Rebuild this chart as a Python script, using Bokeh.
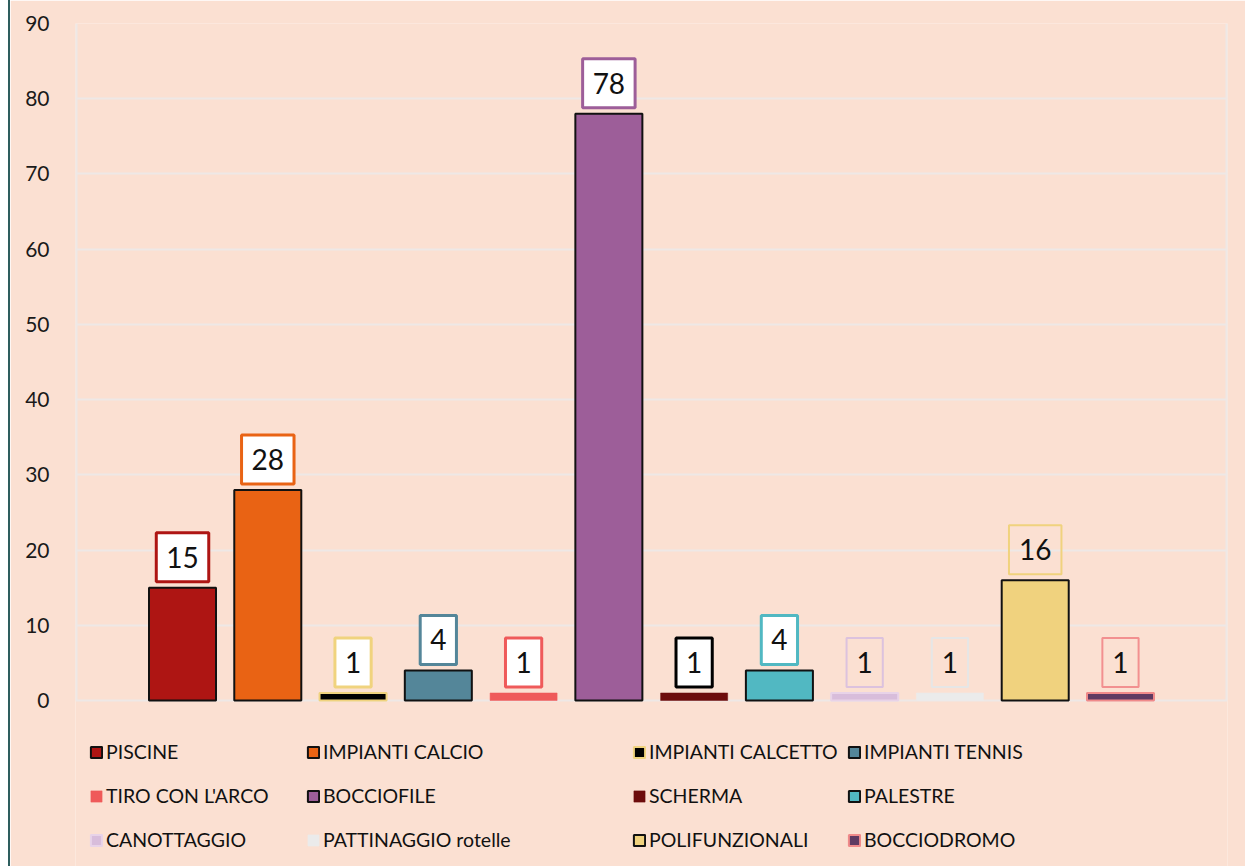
from bokeh.plotting import figure
from bokeh.models import Range1d, Legend, LegendItem, Label, FixedTicker
from bokeh.embed import file_html
from bokeh.resources import INLINE

categories = ["PISCINE", "IMPIANTI CALCIO", "IMPIANTI CALCETTO", "IMPIANTI TENNIS",
              "TIRO CON L'ARCO", "BOCCIOFILE", "SCHERMA", "PALESTRE",
              "CANOTTAGGIO", "PATTINAGGIO rotelle", "POLIFUNZIONALI", "BOCCIODROMO"]
values = [15, 28, 1, 4, 1, 78, 1, 4, 1, 1, 16, 1]
y_ticks = [0, 10, 20, 30, 40, 50, 60, 70, 80, 90]

fill_colors = ["#AE1513", "#E96314", "#000000", "#548699", "#EF5A5A", "#9D5E99",
               "#6D0C0C", "#51B8C2", "#D8BDDB", "#EBEBEB", "#F0D27E", "#5E3A62"]
line_colors = ["#111111", "#111111", "#F0D37E", "#111111", None, "#111111",
               None, "#111111", "#E8D3E8", None, "#111111", "#F08A8A"]
box_colors = ["#AE1513", "#E96314", "#F0D37E", "#548699", "#EF5A5A", "#9D5E99",
              "#000000", "#51B8C2", "#DCC2DE", "#E6E6E6", "#F0D27E", "#F29090"]
box_fill = ["white"] * 8 + [None] * 4
box_width = [3] * 8 + [2] * 4

BG = "#FBE0D2"
GRID = "#EEE8E6"
FONT = "Lato"

# layout (pixels)
W, H = 1237, 866
LEFT, RIGHT, TOP = 65, 20, 23
PLOT_H = 677          # height of the 0..90 value area
Y_MAX = 90
frame_h = H - TOP
y_min = Y_MAX - frame_h * Y_MAX / PLOT_H   # extend frame below 0 to host legend

n = len(categories)
x_lo, x_hi = -1.255, n - 1 + 1.255
p = figure(width=W, height=H, output_backend="svg", toolbar_location=None,
           x_range=Range1d(x_lo, x_hi), y_range=Range1d(y_min, Y_MAX),
           min_border_left=LEFT, min_border_right=RIGHT, min_border_top=TOP,
           min_border_bottom=0)
p.background_fill_color = BG
p.border_fill_color = BG
p.outline_line_color = None
p.styles = {"border-left": "2px solid #2E5E5E", "margin-left": "8px"}

p.xaxis.visible = False
p.xgrid.grid_line_color = None
p.ygrid.ticker = FixedTicker(ticks=y_ticks)
p.ygrid.grid_line_color = GRID
p.ygrid.grid_line_width = 2
p.yaxis.ticker = FixedTicker(ticks=y_ticks)
p.yaxis.axis_line_color = None
p.yaxis.major_tick_line_color = None
p.yaxis.minor_tick_line_color = None
p.yaxis.major_label_text_font = FONT
p.yaxis.major_label_text_font_size = "21px"
p.yaxis.major_label_text_color = "#1a1a1a"
p.yaxis.major_label_standoff = 20

# plot-area side borders (only over the 0..90 value area)
p.segment(x0=[x_lo, x_hi], y0=[0, 0], x1=[x_lo, x_hi], y1=[Y_MAX, Y_MAX],
          line_color=GRID, line_width=4)

renderers = []
for i in range(n):
    lc = line_colors[i]
    r = p.vbar(x=[i], top=[values[i]], bottom=0, width=0.786,
               fill_color=fill_colors[i],
               line_color=lc if lc else fill_colors[i],
               line_width=2 if lc else 0.5)
    renderers.append(r)

    lab = Label(x=i, y=values[i], text=str(values[i]), y_offset=6,
                text_align="center", text_baseline="bottom",
                text_font=FONT, text_font_size="28px", text_color="#111111",
                padding=(10, 10, 14, 14),
                background_fill_color=box_fill[i],
                border_line_color=box_colors[i], border_line_width=box_width[i])
    p.add_layout(lab)

col_x = [14, 231, 557, 772]
for c in range(4):
    items = [LegendItem(label=categories[k], renderers=[renderers[k]])
             for k in range(c, n, 4)]
    leg = Legend(items=items, location=(col_x[c], 15), padding=0, margin=0,
                 spacing=21, label_height=22, glyph_height=14, glyph_width=14,
                 label_standoff=3, label_text_font=FONT,
                 label_text_font_size="19.5px", label_text_color="#111111",
                 background_fill_alpha=0, border_line_color=None)
    p.add_layout(leg, "center")

open("out.html", "w").write(file_html(p, INLINE))
